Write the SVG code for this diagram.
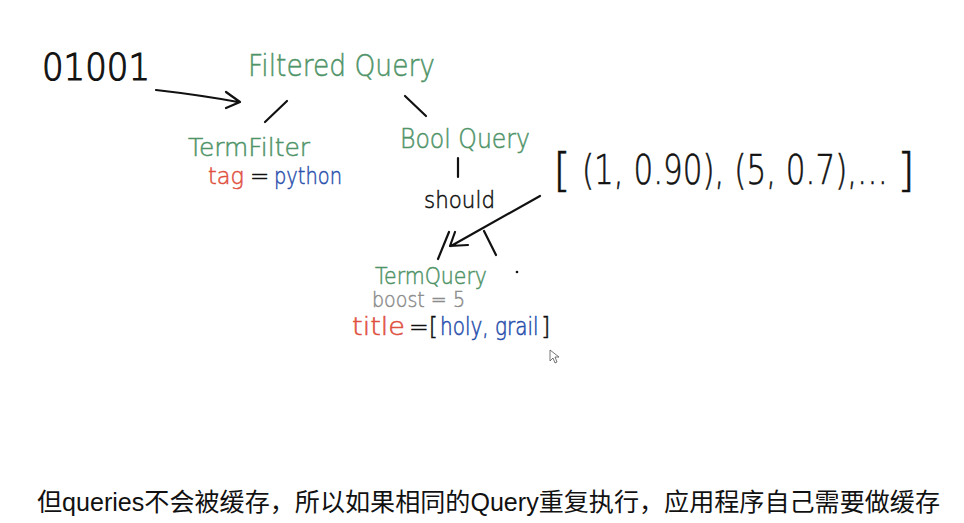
<svg xmlns="http://www.w3.org/2000/svg" width="964" height="523" viewBox="0 0 964 523">
<style>
text{font-family:"DejaVu Sans","Liberation Sans",sans-serif;font-weight:200}
.cap{font-family:"Liberation Sans","Noto Sans CJK SC",sans-serif;font-weight:400}
.g{fill:#4f9468;stroke:#4f9468;stroke-width:0.5}
.r{fill:#e0503f;stroke:#e0503f;stroke-width:0.5}
.b{fill:#2a50ad;stroke:#2a50ad;stroke-width:0.5}
.k{fill:#111;stroke:#111;stroke-width:0.5}
.cap.k{stroke:none}
.gr{fill:#8c8c8c;stroke:#8c8c8c;stroke-width:0.5}
.ln{stroke:#111;stroke-width:2.2;fill:none;stroke-linecap:round;stroke-linejoin:round}
</style>
<rect width="964" height="523" fill="#fff"/>
<g id="bits"><text class="k" x="42" y="80" font-size="38" textLength="108" lengthAdjust="spacingAndGlyphs" style="stroke-width:1.2">01001</text></g>
<g id="filtered-query"><text class="g" x="248" y="76" font-size="31" textLength="187" lengthAdjust="spacingAndGlyphs">Filtered Query</text></g>
<g id="term-filter">
<text class="g" x="188" y="156" font-size="25" textLength="122" lengthAdjust="spacingAndGlyphs">TermFilter</text>
<text class="r" x="208" y="184" font-size="23" textLength="36" lengthAdjust="spacingAndGlyphs">tag</text>
<text class="k" x="250" y="184" font-size="23">=</text>
<text class="b" x="274" y="184" font-size="23" textLength="68" lengthAdjust="spacingAndGlyphs">python</text>
</g>
<g id="bool-query">
<text class="g" x="400" y="148" font-size="26" textLength="130" lengthAdjust="spacingAndGlyphs">Bool Query</text>
<text class="k" x="424" y="208" font-size="23" textLength="71" lengthAdjust="spacingAndGlyphs">should</text>
</g>
<g id="scores">
<text class="k" x="553" y="186" font-size="46" textLength="18" lengthAdjust="spacingAndGlyphs">[</text>
<text class="k" transform="translate(582,184) scale(1,1.33)" x="0" y="0" font-size="31" style="stroke-width:0.45">(1, 0.90), (5, 0.7),…</text>
<text class="k" x="897" y="186" font-size="46" textLength="18" lengthAdjust="spacingAndGlyphs">]</text>
</g>
<g id="term-query">
<text class="g" x="375" y="284" font-size="23" textLength="112" lengthAdjust="spacingAndGlyphs">TermQuery</text>
<text class="gr" x="372" y="307" font-size="22" textLength="93" lengthAdjust="spacingAndGlyphs">boost = 5</text>
<text class="r" x="352" y="335" font-size="24" textLength="53" lengthAdjust="spacingAndGlyphs">title</text>
<text class="k" x="409" y="335" font-size="24" textLength="29" lengthAdjust="spacingAndGlyphs">=[</text>
<text class="b" transform="translate(440,335) scale(1,1.2)" x="0" y="0" font-size="20">holy, grail</text>
<text class="k" x="541" y="335" font-size="24">]</text>
<circle cx="517" cy="272" r="1.3" fill="#111"/>
</g>
<g id="connectors">
<path class="ln" d="M156 90 Q200 95 238 102 M226 92 L240 102 L226 108"/>
<path class="ln" d="M287 101 L265 122"/>
<path class="ln" d="M405 96 L426 116"/>
<path class="ln" d="M458 158 L458 177"/>
<path class="ln" d="M540 196 L451 246 M455 232 L450 246 L468 245"/>
<path class="ln" d="M438 259 L449 232"/>
<path class="ln" d="M484 231 L496 255"/>
</g>
<path d="M550 350 L550 361 L553 358 L555 363 L557 362 L555 357 L559 357 Z" fill="#fff" stroke="#555" stroke-width="0.8"/>
<g id="caption"><text class="k cap" x="37" y="511" font-size="25" textLength="903" lengthAdjust="spacingAndGlyphs">但queries不会被缓存，所以如果相同的Query重复执行，应用程序自己需要做缓存</text></g>
</svg>
